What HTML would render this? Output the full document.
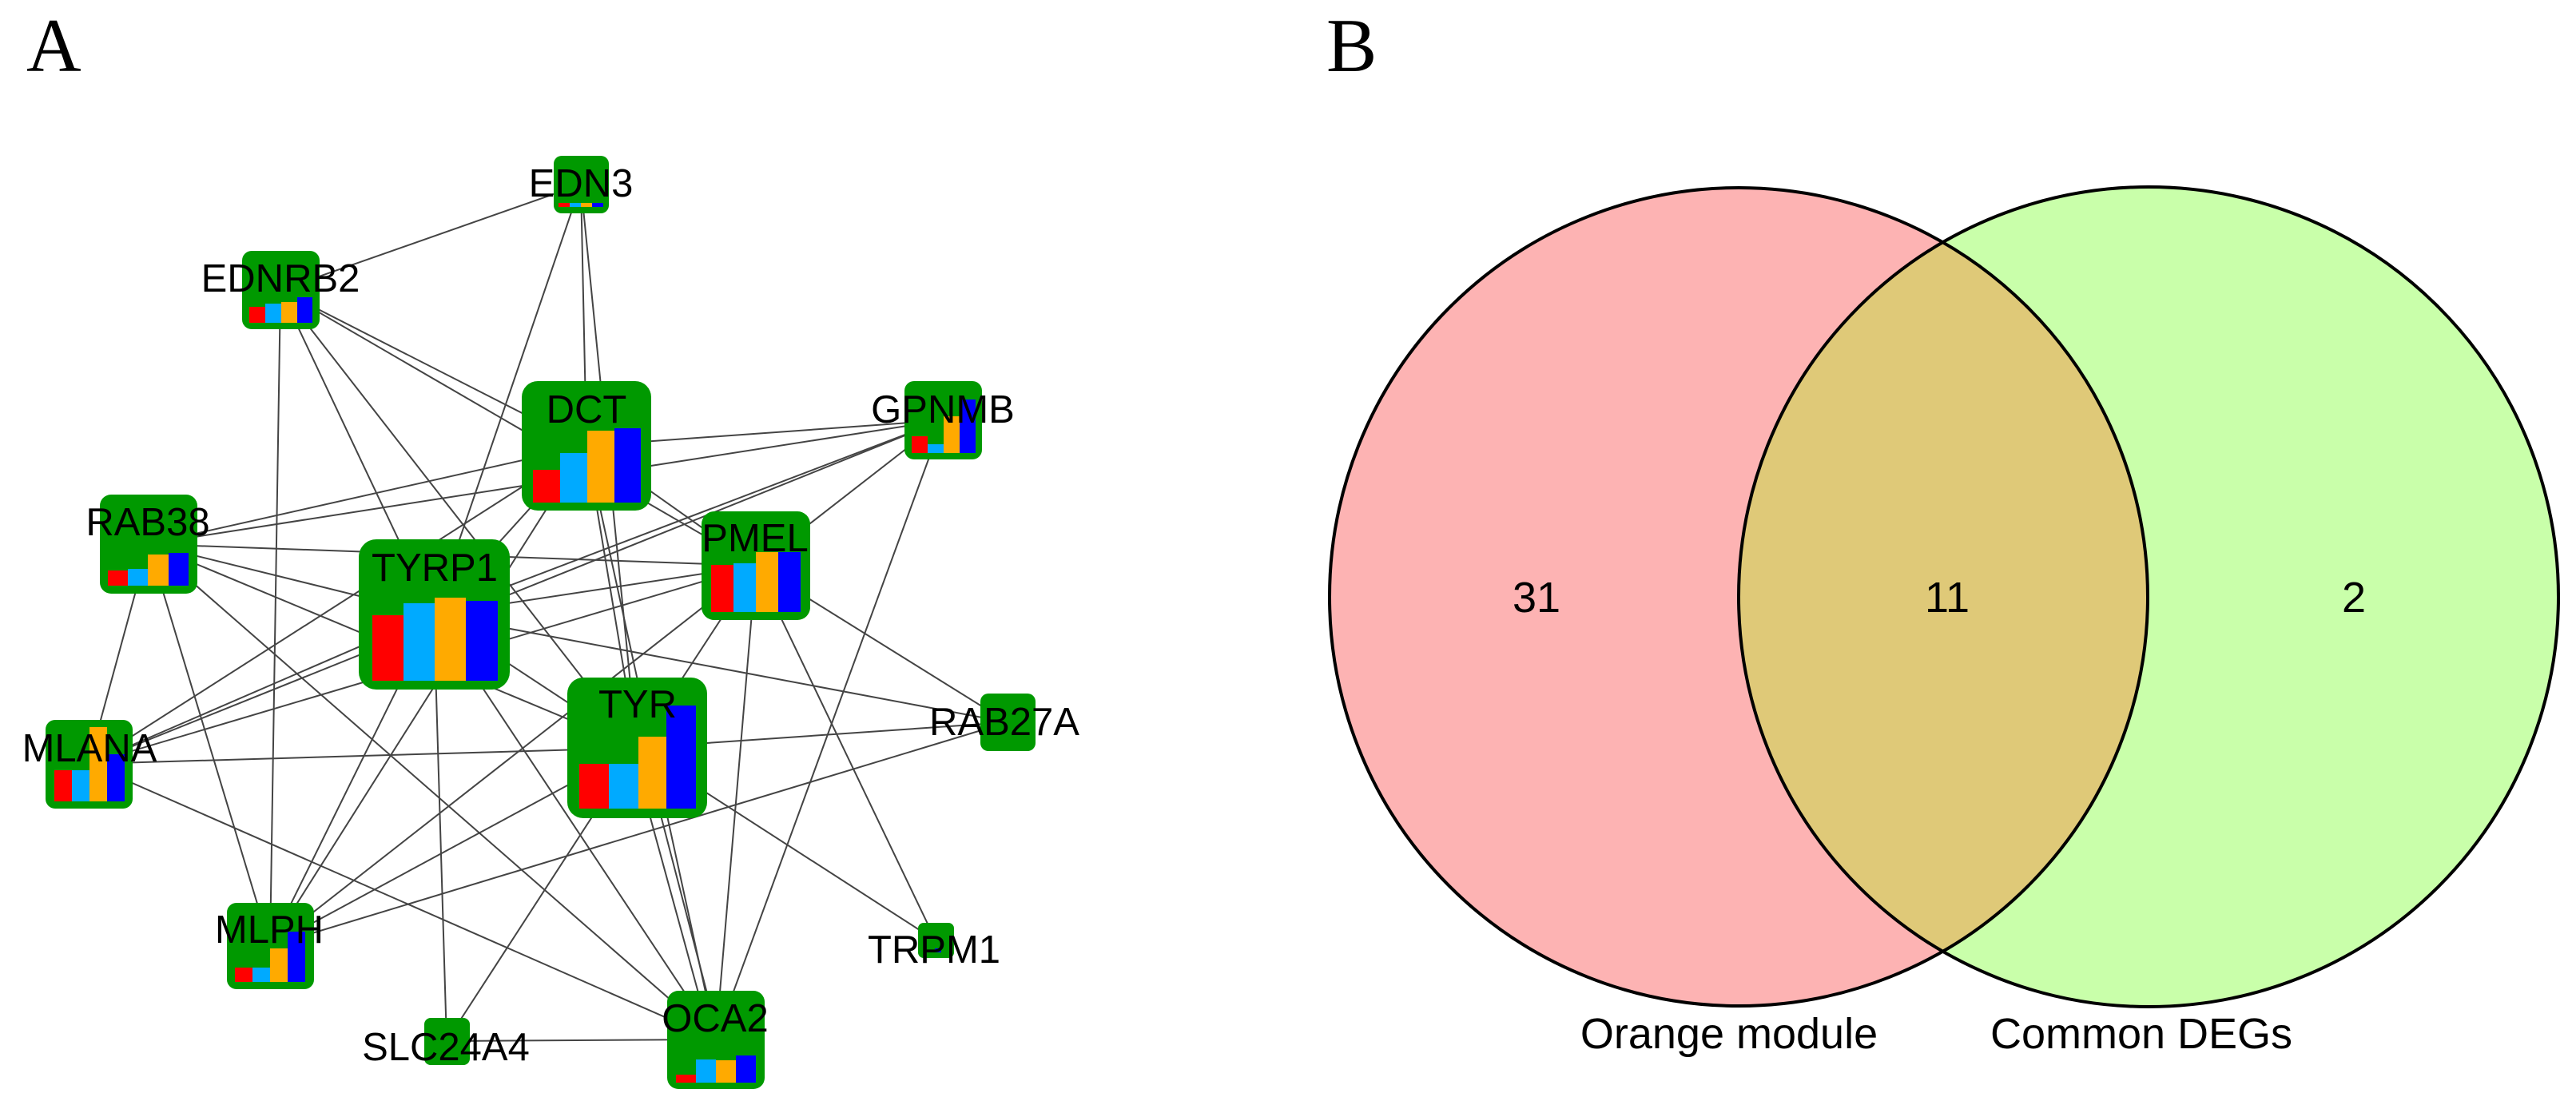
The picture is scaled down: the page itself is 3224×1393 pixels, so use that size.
<!DOCTYPE html>
<html><head><meta charset="utf-8"><style>html,body{margin:0;padding:0;background:#fff}svg{display:block}</style></head>
<body>
<svg width="3224" height="1393" viewBox="0 0 3224 1393" xmlns="http://www.w3.org/2000/svg">
<rect width="3224" height="1393" fill="#fff"/>
<text x="33" y="89" font-family="Liberation Serif, serif" font-size="95">A</text>
<text x="1660" y="89" font-family="Liberation Serif, serif" font-size="95">B</text>
<g stroke="#444" stroke-width="2" fill="none">
<!-- EDN3 -->
<line x1="727" y1="231" x2="351" y2="363"/>
<line x1="727" y1="231" x2="543" y2="769"/>
<line x1="727" y1="231" x2="734" y2="558"/>
<line x1="727" y1="231" x2="797" y2="936"/>
<!-- EDNRB2 -->
<line x1="351" y1="363" x2="734" y2="558"/>
<line x1="351" y1="363" x2="946" y2="708"/>
<line x1="351" y1="363" x2="543" y2="769"/>
<line x1="351" y1="363" x2="797" y2="936"/>
<line x1="351" y1="363" x2="338" y2="1184"/>
<!-- DCT -->
<line x1="734" y1="558" x2="1180" y2="526"/>
<line x1="734" y1="558" x2="186" y2="681"/>
<line x1="734" y1="558" x2="543" y2="769"/>
<line x1="734" y1="558" x2="946" y2="708"/>
<line x1="734" y1="558" x2="797" y2="936"/>
<line x1="734" y1="558" x2="896" y2="1301"/>
<line x1="734" y1="558" x2="111" y2="956"/>
<line x1="734" y1="558" x2="338" y2="1184"/>
<!-- GPNMB -->
<line x1="1180" y1="526" x2="186" y2="681"/>
<line x1="1180" y1="526" x2="543" y2="769"/>
<line x1="1180" y1="526" x2="111" y2="956"/>
<line x1="1180" y1="526" x2="946" y2="708"/>
<line x1="1180" y1="526" x2="896" y2="1301"/>
<!-- RAB38 -->
<line x1="186" y1="681" x2="543" y2="769"/>
<line x1="186" y1="681" x2="946" y2="708"/>
<line x1="186" y1="681" x2="797" y2="936"/>
<line x1="186" y1="681" x2="111" y2="956"/>
<line x1="186" y1="681" x2="338" y2="1184"/>
<line x1="186" y1="681" x2="896" y2="1301"/>
<!-- PMEL -->
<line x1="946" y1="708" x2="543" y2="769"/>
<line x1="946" y1="708" x2="797" y2="936"/>
<line x1="946" y1="708" x2="111" y2="956"/>
<line x1="946" y1="708" x2="338" y2="1184"/>
<line x1="946" y1="708" x2="896" y2="1301"/>
<line x1="946" y1="708" x2="1171" y2="1177"/>
<line x1="946" y1="708" x2="1261" y2="904"/>
<!-- TYRP1 -->
<line x1="543" y1="769" x2="797" y2="936"/>
<line x1="543" y1="769" x2="111" y2="956"/>
<line x1="543" y1="769" x2="338" y2="1184"/>
<line x1="543" y1="769" x2="896" y2="1301"/>
<line x1="543" y1="769" x2="559" y2="1303"/>
<line x1="543" y1="769" x2="1261" y2="904"/>
<!-- TYR -->
<line x1="797" y1="936" x2="111" y2="956"/>
<line x1="797" y1="936" x2="338" y2="1184"/>
<line x1="790" y1="936" x2="890" y2="1301"/>
<line x1="805" y1="936" x2="900" y2="1301"/>
<line x1="797" y1="936" x2="559" y2="1303"/>
<line x1="797" y1="936" x2="1171" y2="1177"/>
<line x1="797" y1="936" x2="1261" y2="904"/>
<!-- others -->
<line x1="111" y1="956" x2="896" y2="1301"/>
<line x1="338" y1="1184" x2="1261" y2="904"/>
<line x1="559" y1="1303" x2="896" y2="1301"/>
</g>
<g fill="#009900">
<rect x="693" y="195" width="69" height="72" rx="10"/>
<rect x="303" y="314" width="97" height="98" rx="12"/>
<rect x="653" y="477" width="162" height="162" rx="20"/>
<rect x="1132" y="477" width="97" height="98" rx="12"/>
<rect x="125" y="619" width="122" height="124" rx="14"/>
<rect x="878" y="640" width="136" height="136" rx="16"/>
<rect x="449" y="675" width="189" height="188" rx="22"/>
<rect x="710" y="848" width="175" height="176" rx="20"/>
<rect x="1227" y="868" width="69" height="72" rx="10"/>
<rect x="57" y="901" width="109" height="111" rx="12"/>
<rect x="284" y="1130" width="109" height="108" rx="12"/>
<rect x="1149" y="1155" width="45" height="44" rx="7"/>
<rect x="531" y="1274" width="57" height="59" rx="8"/>
<rect x="835" y="1240" width="122" height="123" rx="14"/>
</g>
<g>
<!-- bars: x, bottom, width each, heights -->
<!-- TYRP1 -->
<rect x="466" y="770" width="39" height="82" fill="#ff0000"/><rect x="505" y="755" width="39" height="97" fill="#00aaff"/><rect x="544" y="748" width="39" height="104" fill="#ffaa00"/><rect x="583" y="752" width="40" height="100" fill="#0000ff"/>
<!-- DCT -->
<rect x="667" y="588" width="34" height="41" fill="#ff0000"/><rect x="701" y="567" width="34" height="62" fill="#00aaff"/><rect x="735" y="539" width="34" height="90" fill="#ffaa00"/><rect x="769" y="536" width="33" height="93" fill="#0000ff"/>
<!-- TYR -->
<rect x="725" y="956" width="37" height="56" fill="#ff0000"/><rect x="762" y="956" width="37" height="56" fill="#00aaff"/><rect x="799" y="922" width="35" height="90" fill="#ffaa00"/><rect x="834" y="883" width="37" height="129" fill="#0000ff"/>
<!-- PMEL -->
<rect x="890" y="707" width="28" height="59" fill="#ff0000"/><rect x="918" y="705" width="28" height="61" fill="#00aaff"/><rect x="946" y="691" width="28" height="75" fill="#ffaa00"/><rect x="974" y="691" width="28" height="75" fill="#0000ff"/>
<!-- RAB38 -->
<rect x="135" y="714" width="25" height="19" fill="#ff0000"/><rect x="160" y="712" width="25" height="21" fill="#00aaff"/><rect x="185" y="694" width="26" height="39" fill="#ffaa00"/><rect x="211" y="692" width="25" height="41" fill="#0000ff"/>
<!-- MLANA -->
<rect x="68" y="964" width="22" height="39" fill="#ff0000"/><rect x="90" y="964" width="22" height="39" fill="#00aaff"/><rect x="112" y="910" width="22" height="93" fill="#ffaa00"/><rect x="134" y="944" width="22" height="59" fill="#0000ff"/>
<!-- MLPH -->
<rect x="294" y="1211" width="22" height="18" fill="#ff0000"/><rect x="316" y="1211" width="22" height="18" fill="#00aaff"/><rect x="338" y="1187" width="22" height="42" fill="#ffaa00"/><rect x="360" y="1166" width="22" height="63" fill="#0000ff"/>
<!-- GPNMB -->
<rect x="1141" y="546" width="20" height="21" fill="#ff0000"/><rect x="1161" y="556" width="20" height="11" fill="#00aaff"/><rect x="1181" y="521" width="20" height="46" fill="#ffaa00"/><rect x="1201" y="500" width="20" height="67" fill="#0000ff"/>
<!-- EDNRB2 -->
<rect x="312" y="384" width="20" height="20" fill="#ff0000"/><rect x="332" y="380" width="20" height="24" fill="#00aaff"/><rect x="352" y="378" width="20" height="26" fill="#ffaa00"/><rect x="372" y="372" width="19" height="32" fill="#0000ff"/>
<!-- OCA2 -->
<rect x="846" y="1345" width="25" height="10" fill="#ff0000"/><rect x="871" y="1326" width="25" height="29" fill="#00aaff"/><rect x="896" y="1327" width="25" height="28" fill="#ffaa00"/><rect x="921" y="1321" width="25" height="34" fill="#0000ff"/>
<!-- EDN3 -->
<rect x="699" y="254" width="14" height="5" fill="#ff0000"/><rect x="713" y="254" width="14" height="5" fill="#00aaff"/><rect x="727" y="254" width="14" height="5" fill="#ffaa00"/><rect x="741" y="254" width="14" height="5" fill="#0000ff"/>
<rect x="1170" y="1187" width="8" height="5" fill="#0000ff"/>
</g>
<g font-family="Liberation Sans, Arial, sans-serif" font-size="49" text-anchor="middle" fill="#000">
<text x="727" y="246">EDN3</text>
<text x="351" y="365">EDNRB2</text>
<text x="734" y="529">DCT</text>
<text x="1180" y="529">GPNMB</text>
<text x="185" y="670">RAB38</text>
<text x="945" y="690">PMEL</text>
<text x="544" y="727">TYRP1</text>
<text x="798" y="898">TYR</text>
<text x="1257" y="920">RAB27A</text>
<text x="112" y="953">MLANA</text>
<text x="337" y="1180">MLPH</text>
<text x="1169" y="1205">TRPM1</text>
<text x="558" y="1327">SLC24A4</text>
<text x="895" y="1291">OCA2</text>
</g>
<!-- Venn -->
<defs><clipPath id="cl"><circle cx="2176" cy="747" r="512"/></clipPath></defs>
<circle cx="2176" cy="747" r="512" fill="#fdb3b3"/>
<circle cx="2689" cy="747" r="513" fill="#c9ffaa"/>
<circle cx="2689" cy="747" r="513" fill="#dfc978" clip-path="url(#cl)"/>
<circle cx="2176" cy="747" r="512" fill="none" stroke="#000" stroke-width="4"/>
<circle cx="2689" cy="747" r="513" fill="none" stroke="#000" stroke-width="4"/>
<g font-family="Liberation Sans, Arial, sans-serif" font-size="54" text-anchor="middle" fill="#000">
<text x="1923" y="766">31</text>
<text x="2437" y="766">11</text>
<text x="2946" y="766">2</text>
<text x="2164" y="1312">Orange module</text>
<text x="2680" y="1312">Common DEGs</text>
</g>
</svg>
</body></html>
